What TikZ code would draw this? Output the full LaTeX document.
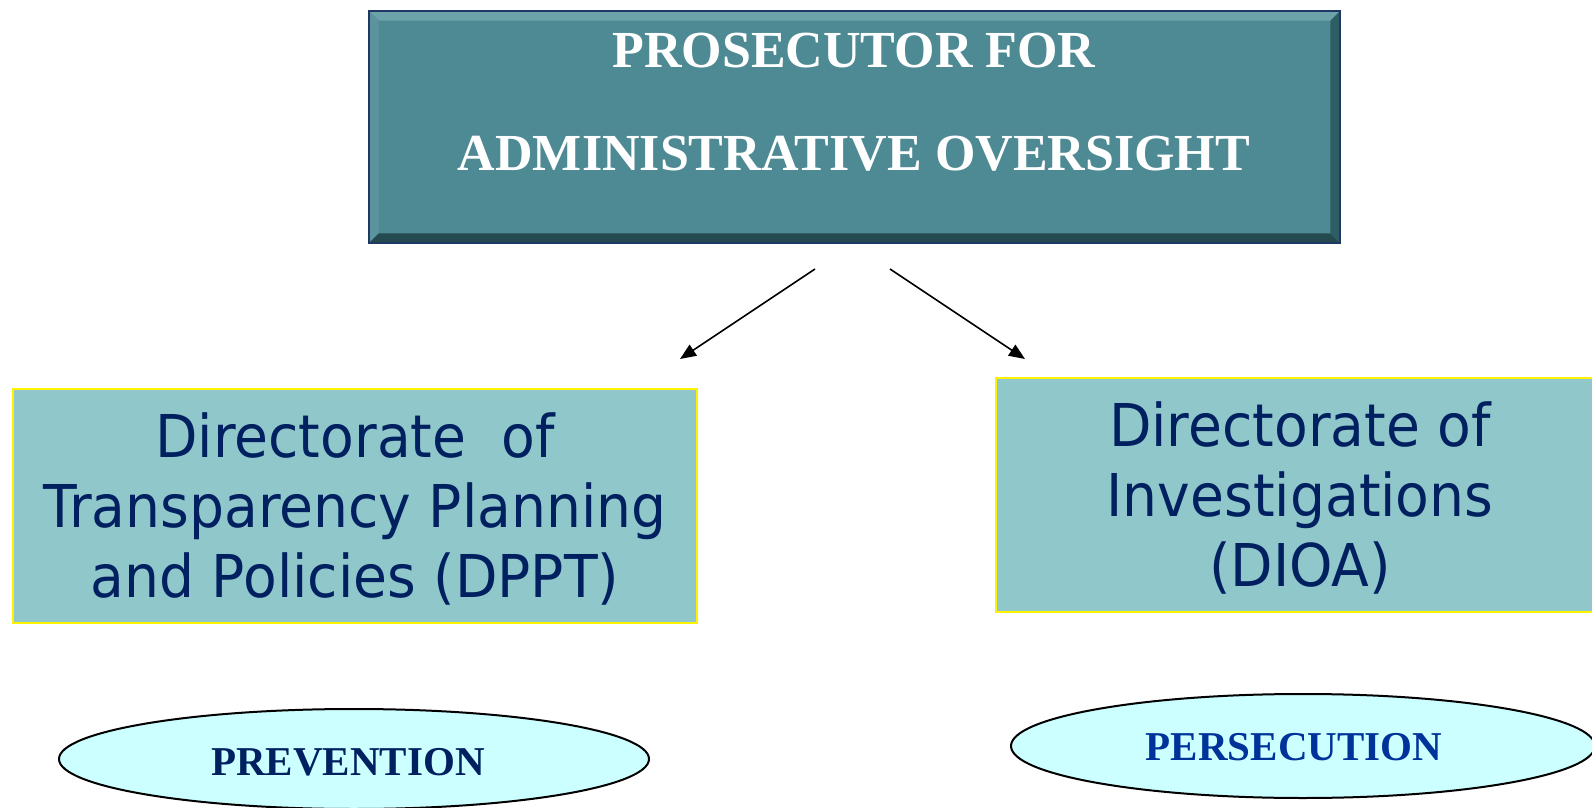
\documentclass[tikz,border=0pt]{standalone}
\usepackage{fontspec}
\setmainfont{Liberation Serif}
\newfontfamily\boxfont[FakeStretch=0.935]{DejaVu Sans}
\usetikzlibrary{shapes.geometric,arrows.meta,calc}
\definecolor{tealmain}{HTML}{4E8A93}
\definecolor{teallight}{HTML}{6CA3AB}
\definecolor{tealmid}{HTML}{5B949C}
\definecolor{tealdark}{HTML}{2E5E65}
\definecolor{tealdarker}{HTML}{24494F}
\definecolor{navyline}{HTML}{1F3864}
\definecolor{boxfill}{HTML}{8FC7CB}
\definecolor{boxtext}{HTML}{002060}
\definecolor{ellfill}{HTML}{CCFFFF}
\definecolor{persblue}{HTML}{003399}
\tikzset{
  topbox/.style={rectangle, fill=tealmain, draw=none, minimum width=485.5pt, minimum height=116pt, inner sep=0pt},
  toptext/.style={text=white, font=\fontsize{26}{30}\selectfont\bfseries, inner sep=0pt},
  dirbox/.style={rectangle, fill=boxfill, draw=yellow, line width=1.2pt, inner sep=0pt},
  dirtext/.style={align=center, text=boxtext, font=\boxfont\fontsize{29.5}{35}\selectfont, inner sep=0pt},
  oval/.style={ellipse, fill=ellfill, draw=black, line width=1pt, inner sep=0pt},
  ovaltext/.style={inner sep=0pt, font=\fontsize{20.5}{24}\selectfont\bfseries},
  arr/.style={line width=0.8pt, -{Triangle[length=8pt,width=6.5pt]}}
}
\begin{document}
\begin{tikzpicture}[x=0.5pt,y=-0.5pt]
\useasboundingbox (0,0) rectangle (1592,808);
\clip (0,0) rectangle (1592,808);
% top box with bevel
\node[topbox] (top) at (854.5,127) {};
\coordinate (nw) at (top.north west);
\coordinate (ne) at (top.north east);
\coordinate (sw) at (top.south west);
\coordinate (se) at (top.south east);
\coordinate (inw) at ($(nw)+(10,10)$);
\coordinate (ine) at ($(ne)+(-10,10)$);
\coordinate (isw) at ($(sw)+(10,-10)$);
\coordinate (ise) at ($(se)+(-10,-10)$);
\fill[teallight] (nw) -- (ne) -- (ine) -- (inw) -- cycle;
\fill[tealmid] (nw) -- (inw) -- (isw) -- (sw) -- cycle;
\fill[tealdarker] (sw) -- (isw) -- (ise) -- (se) -- cycle;
\fill[tealdark] (ne) -- (se) -- (ise) -- (ine) -- cycle;
\draw[navyline, line width=1pt] (nw) rectangle (se);
\node[toptext, anchor=base] (t1) at (854,68) {PROSECUTOR FOR};
\node[toptext, anchor=base] (t2) at (854,170) {ADMINISTRATIVE OVERSIGHT};
% arrows
\coordinate (a1s) at (815,269);
\coordinate (a1e) at (680,359);
\coordinate (a2s) at (890,269);
\coordinate (a2e) at (1025,359);
\draw[arr] (a1s) -- (a1e);
\draw[arr] (a2s) -- (a2e);
% directorate boxes
\node[dirbox, minimum width=342pt, minimum height=117pt] (dppt) at (355,506) {};
\node[dirtext] (dpptt) at ($(dppt.center)+(0,3)$)
  {Directorate\ \ of\\Transparency Planning\\and Policies (DPPT)};
\node[dirbox, minimum width=304pt, minimum height=117pt] (dioa) at (1300,495) {};
\node[dirtext] (dioat) at ($(dioa.center)+(0,3)$)
  {Directorate of\\Investigations\\(DIOA)};
% ovals
\node[oval, minimum width=295pt, minimum height=50pt] (prev) at (354,759) {};
\node[ovaltext, text=boxtext] (prevt) at ($(prev.center)+(-6,3)$) {PREVENTION};
\node[oval, minimum width=292pt, minimum height=52pt] (pers) at (1303,746) {};
\node[ovaltext, text=persblue] (perst) at ($(pers.center)+(-9,1)$) {PERSECUTION};
\end{tikzpicture}
\end{document}
